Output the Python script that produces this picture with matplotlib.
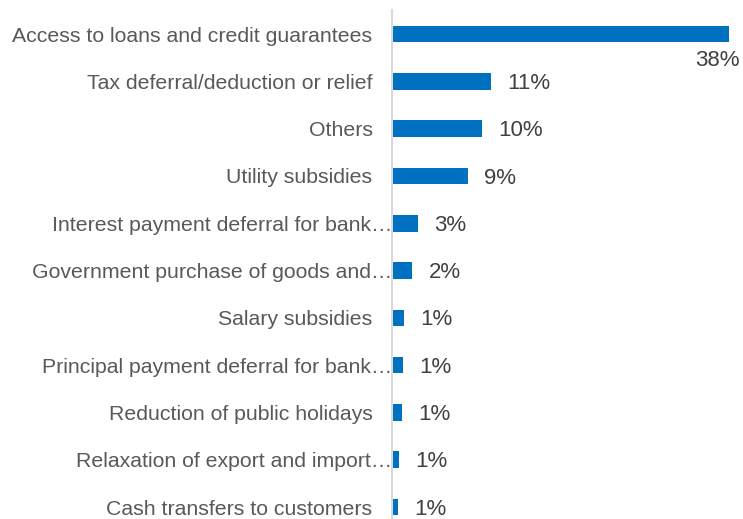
import matplotlib.pyplot as plt
import matplotlib.transforms as mtransforms
import numpy as np

plt.rcParams['font.family'] = ['Liberation Sans', 'DejaVu Sans']

categories = ['Access to loans and credit guarantees',
              'Tax deferral/deduction or relief',
              'Others',
              'Utility subsidies',
              'Interest payment deferral for bank\u2026',
              'Government purchase of goods and\u2026',
              'Salary subsidies',
              'Principal payment deferral for bank\u2026',
              'Reduction of public holidays',
              'Relaxation of export and import\u2026',
              'Cash transfers to customers']
shares = [38.0, 11.15, 10.13, 8.55, 2.88, 2.26, 1.36, 1.24, 1.09, 0.79, 0.68]

W, H = 743, 519
fig = plt.figure(figsize=(W/100, H/100), dpi=100)
slot = 47.3
top = 10.4
n = len(categories)
ax = fig.add_axes([392/W, 1-(top+n*slot)/H, (W-392)/W, n*slot/H])

y = np.arange(n)
ax.barh(y, shares, height=0.35, color='#0070C0')
ax.set_ylim(n-0.5, -0.5)
ax.set_xlim(0, 38*(W-392)/336.5)

ax.set_yticks(y)
ax.set_yticklabels(categories, fontsize=15.3, color='#595959')
ax.tick_params(axis='y', length=0, pad=14)
# truncated labels run right up to the axis line
for t in ax.get_yticklabels():
    if t.get_text().endswith('\u2026'):
        t.set_transform(t.get_transform() +
                        mtransforms.ScaledTranslation(14.3/72, 0, fig.dpi_scale_trans))
ax.set_xticks([])
for s in ['top', 'right', 'bottom']:
    ax.spines[s].set_visible(False)
ax.spines['left'].set_color('#d9d9d9')
ax.spines['left'].set_linewidth(1.5)

for i, v in enumerate(shares):
    lab = f'{v:.0f}%'
    if i == 0:
        ax.annotate(lab, (v, i), xytext=(8, -19), textcoords='offset points',
                    ha='right', va='center', fontsize=16, color='#404040')
    else:
        ax.annotate(lab, (v, i), xytext=(12, -1.5), textcoords='offset points',
                    ha='left', va='center', fontsize=16, color='#404040')

fig.savefig('out.png', dpi=100)
